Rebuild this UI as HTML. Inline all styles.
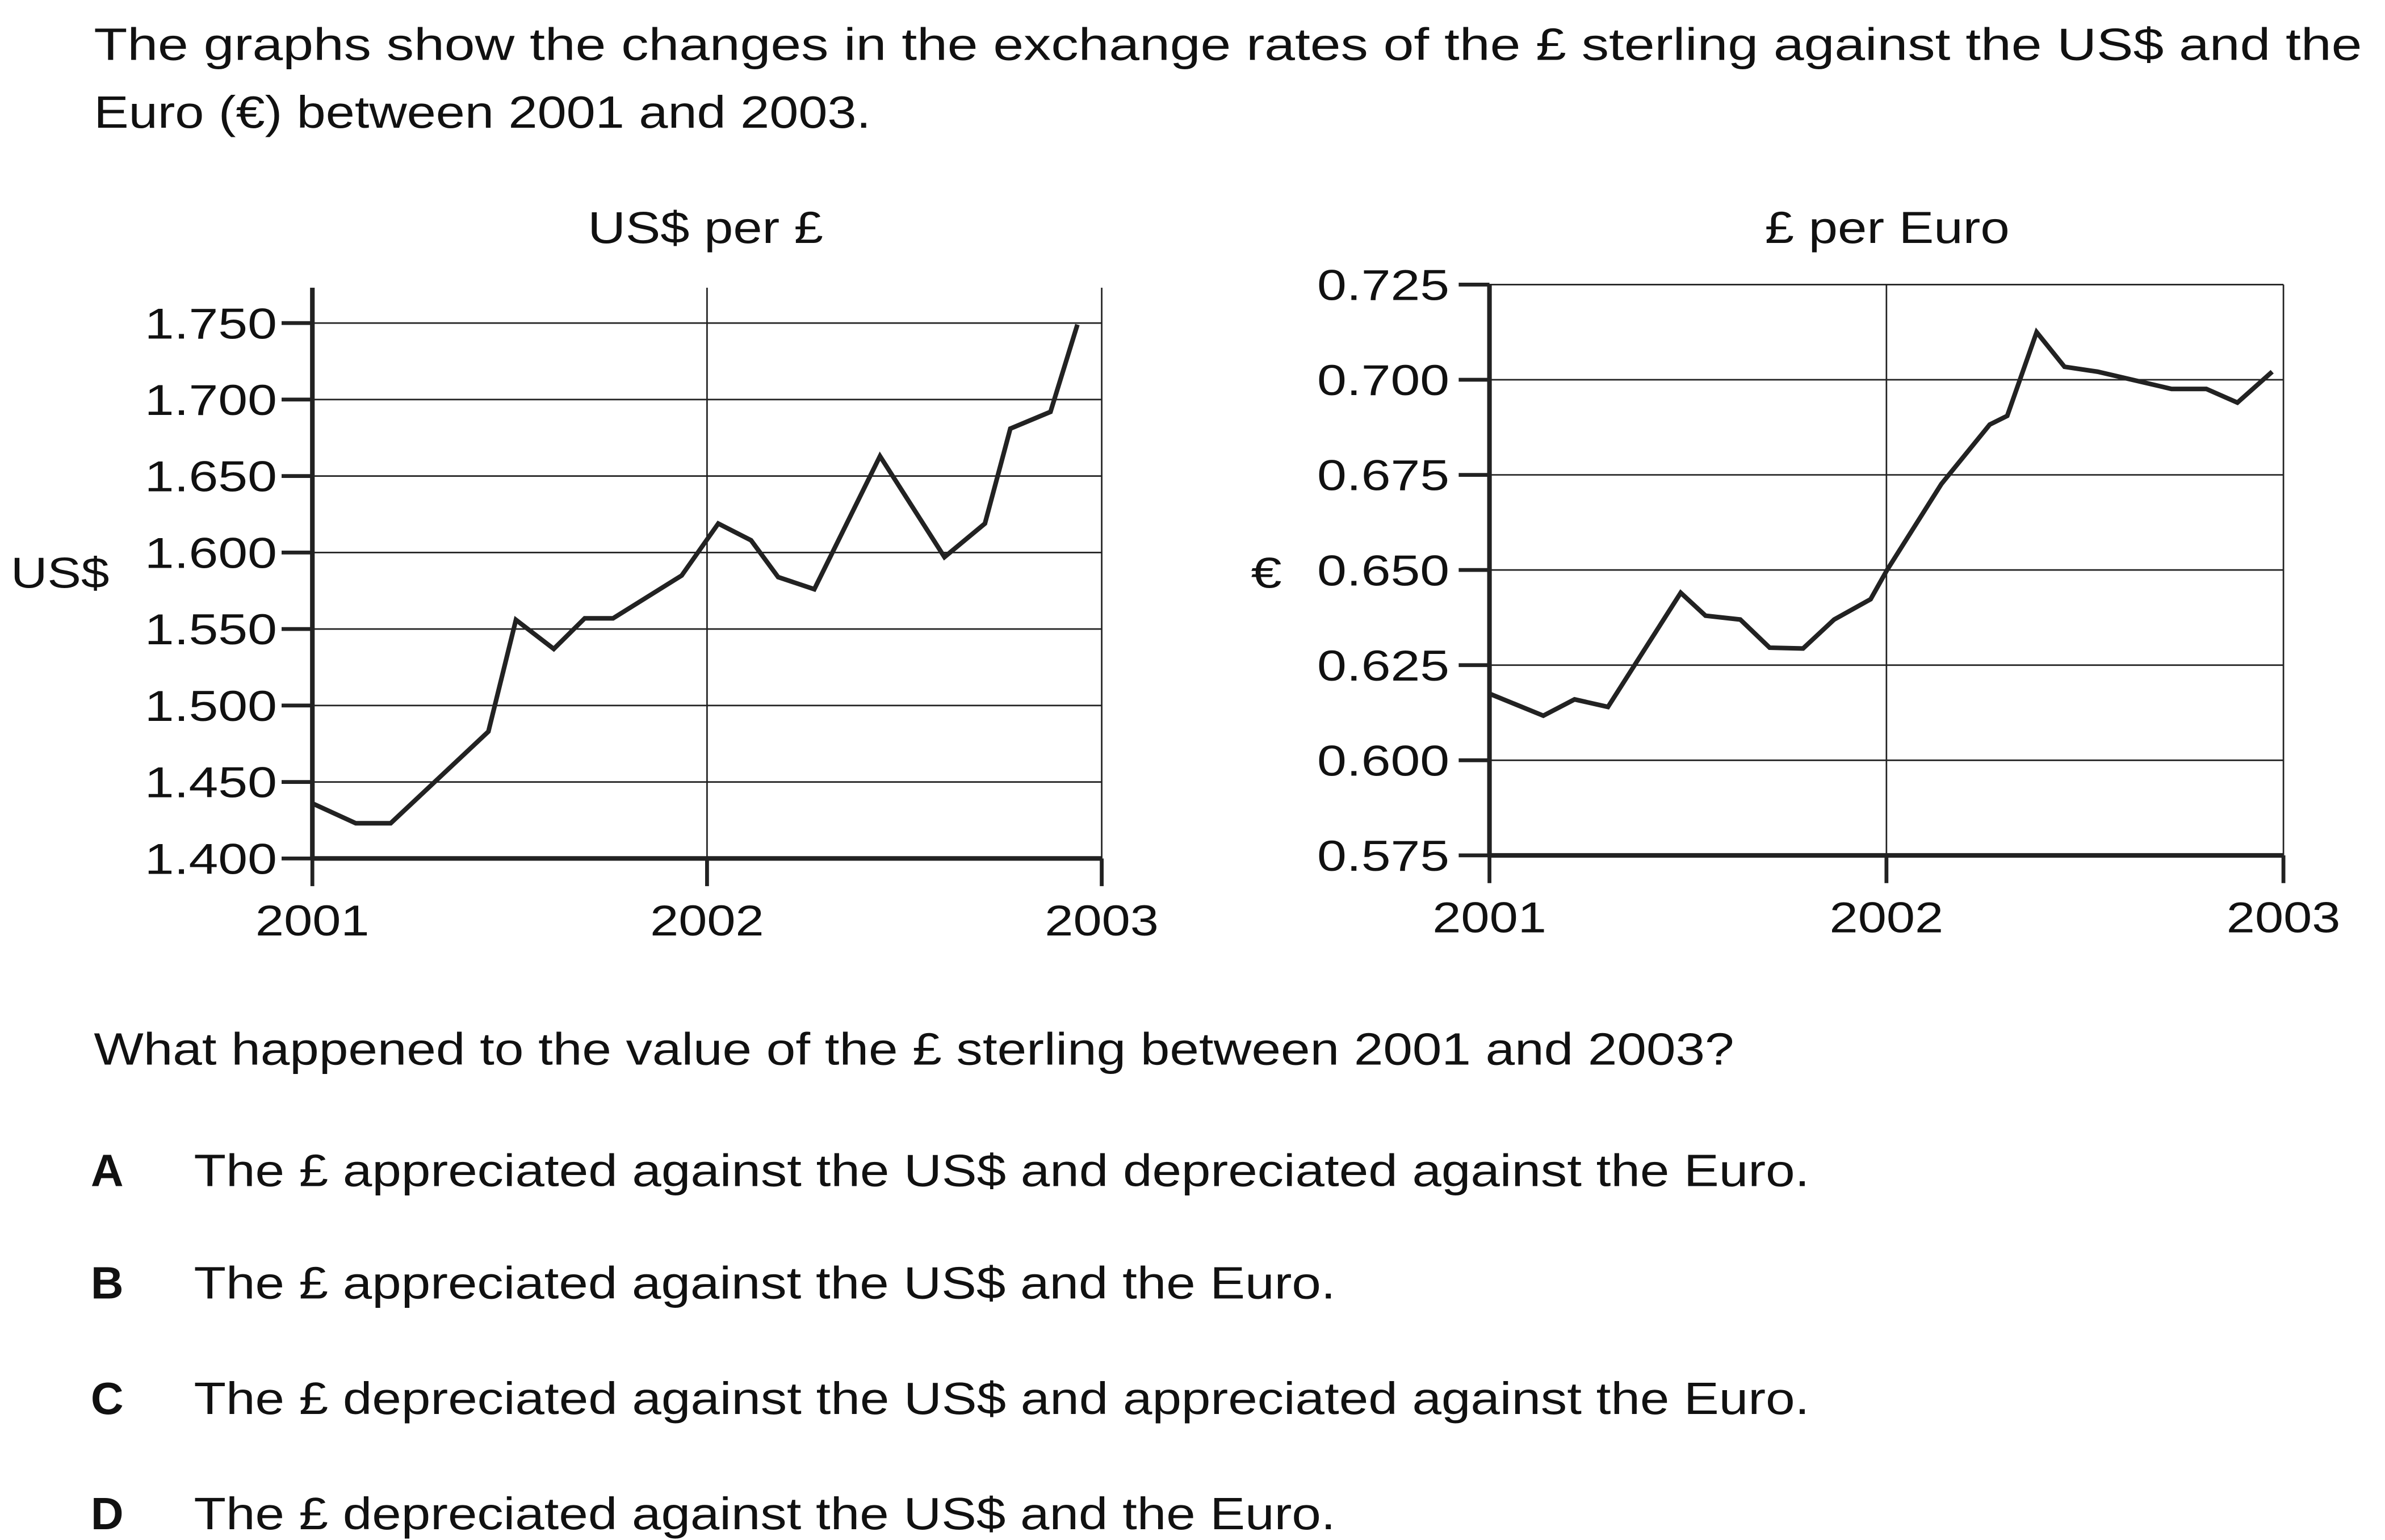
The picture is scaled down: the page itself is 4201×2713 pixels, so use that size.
<!DOCTYPE html>
<html><head><meta charset="utf-8"><style>
html,body{margin:0;padding:0;background:#fff;}
svg{display:block;}
text{font-family:"Liberation Sans",Arial,sans-serif;fill:#111;}
</style></head><body>
<svg id="root" width="4201" height="2713" viewBox="0 0 1550 1001" xmlns="http://www.w3.org/2000/svg">
<g font-size="29.5">
<text x="61" y="39" textLength="1474" lengthAdjust="spacingAndGlyphs">The graphs show the changes in the exchange rates of the £ sterling against the US$ and the</text>
<text x="61" y="83" textLength="505" lengthAdjust="spacingAndGlyphs">Euro (€) between 2001 and 2003.</text>
</g>
<text x="382" y="158" font-size="29" textLength="153" lengthAdjust="spacingAndGlyphs">US$ per £</text>
<text x="1147" y="158" font-size="29" textLength="159" lengthAdjust="spacingAndGlyphs">£ per Euro</text>
<text x="7" y="382" font-size="28" textLength="64" lengthAdjust="spacingAndGlyphs">US$</text>
<text x="813" y="382" font-size="28" textLength="20" lengthAdjust="spacingAndGlyphs">€</text>
<g id="chartL"></g>
<g id="chartR"></g>
<g font-size="29.5">
<text x="61" y="692" textLength="1066" lengthAdjust="spacingAndGlyphs">What happened to the value of the £ sterling between 2001 and 2003?</text>
<g><text x="59" y="771" font-weight="bold">A</text><text x="126" y="771" textLength="1050" lengthAdjust="spacingAndGlyphs">The £ appreciated against the US$ and depreciated against the Euro.</text></g>
<g><text x="59" y="844" font-weight="bold">B</text><text x="126" y="844" textLength="742" lengthAdjust="spacingAndGlyphs">The £ appreciated against the US$ and the Euro.</text></g>
<g><text x="59" y="919" font-weight="bold">C</text><text x="126" y="919" textLength="1050" lengthAdjust="spacingAndGlyphs">The £ depreciated against the US$ and appreciated against the Euro.</text></g>
<g><text x="59" y="994" font-weight="bold">D</text><text x="126" y="994" textLength="742" lengthAdjust="spacingAndGlyphs">The £ depreciated against the US$ and the Euro.</text></g>
</g>
</svg>
<script>
const xYears = ["2001","2002","2003"];
const usdMonths = [0,1.32,2.38,5.35,6.19,7.34,8.28,9.14,11.23,12.34,13.34,14.16,15.26,17.26,19.22,20.45,21.22,22.44,23.26];
const usdValues = [1.436,1.423,1.423,1.483,1.556,1.537,1.557,1.557,1.585,1.619,1.608,1.584,1.576,1.663,1.597,1.619,1.681,1.692,1.749];
const usdTicks = [1.400,1.450,1.500,1.550,1.600,1.650,1.700,1.750];
const eurMonths = [0,1.63,2.57,3.58,5.78,6.53,7.58,8.47,9.48,10.42,11.52,12.02,13.66,15.12,15.65,16.54,17.38,18.38,20.62,21.67,22.61,23.66];
const eurValues = [0.6175,0.6117,0.616,0.614,0.644,0.638,0.637,0.6296,0.6294,0.637,0.6423,0.650,0.6726,0.6882,0.6905,0.7125,0.7034,0.7021,0.6976,0.6976,0.694,0.7021];
const eurTicks = [0.575,0.600,0.625,0.650,0.675,0.700,0.725];
const NS="http://www.w3.org/2000/svg";
function mk(tag,attrs,parent){const e=document.createElementNS(NS,tag);for(const k in attrs)e.setAttribute(k,attrs[k]);parent.appendChild(e);return e;}
function draw(g,cfg){
  const {x0,x1,yTop,yBot,vmin,vmax,top,ticks,months,vals,labelX}=cfg;
  const X=m=>x0+(x1-x0)*m/24;
  const Y=v=>yBot-(yBot-yTop)*(v-vmin)/(vmax-vmin);
  ticks.forEach(t=>{
    const gl=mk('line',{x1:x0,x2:x1,y1:Y(t),y2:Y(t),stroke:'#222','stroke-width':1},g);
    
    
    const tk=mk('line',{x1:x0-20,x2:x0,y1:Y(t),y2:Y(t),stroke:'#222','stroke-width':2.5},g);
    
    
    const tx=mk('text',{x:labelX-86,y:Y(t)+10,'font-size':28,textLength:86,lengthAdjust:'spacingAndGlyphs'},g);
    tx.textContent=t.toFixed(3);
    
    
  });
  [0,12,24].forEach((m,i)=>{
    const vl=mk('line',{x1:X(m),x2:X(m),y1:top,y2:yBot,stroke:'#222','stroke-width':i==0?3:1},g);
    
    
    const tk=mk('line',{x1:X(m),x2:X(m),y1:yBot,y2:yBot+18,stroke:'#222','stroke-width':2.5},g);
    
    
    const tx=mk('text',{x:X(m)-37,y:yBot+50,'font-size':28,textLength:74,lengthAdjust:'spacingAndGlyphs'},g);
    tx.textContent=xYears[i];
    
    
  });
  const ax=mk('line',{x1:x0,x2:x1,y1:yBot,y2:yBot,stroke:'#222','stroke-width':3},g);
  
  
  const pts=months.map((m,i)=>X(m).toFixed(1)+','+Y(vals[i]).toFixed(1)).join(' ');
  const pl=mk('polyline',{points:pts,fill:'none',stroke:'#222','stroke-width':3,'stroke-linejoin':'miter'},g);
  
  
}
draw(document.getElementById('chartL'),{x0:203,x1:716,yTop:210,yBot:558,vmin:1.4,vmax:1.75,top:187,ticks:usdTicks,months:usdMonths,vals:usdValues,labelX:180});
draw(document.getElementById('chartR'),{x0:968,x1:1484,yTop:185,yBot:556,vmin:0.575,vmax:0.725,top:185,ticks:eurTicks,months:eurMonths,vals:eurValues,labelX:942});
</script>
</body></html>
